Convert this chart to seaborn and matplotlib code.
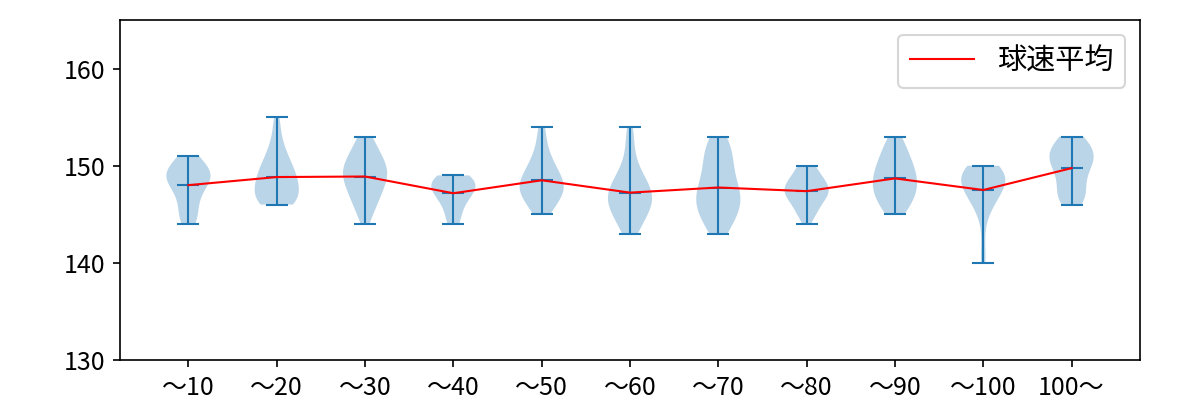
import numpy as np
import matplotlib
matplotlib.use("Agg")
import matplotlib.pyplot as plt
import seaborn as sns

plt.rcParams["font.family"] = ["Noto Sans CJK JP", "DejaVu Sans"]

# pitch-count buckets
labels = ["～10", "～20", "～30", "～40", "～50", "～60",
          "～70", "～80", "～90", "～100", "100～"]

# speed (km/h) -> number of pitches
g10 = {144: 2, 145: 2, 146: 2, 147: 2, 148: 4, 149: 6, 150: 4, 151: 2}
g20 = {146: 6, 147: 7, 148: 5, 149: 6, 150: 4, 151: 3, 152: 2, 153: 1,
       154: 1, 155: 1}
g30 = {144: 1, 145: 2, 146: 3, 147: 4, 148: 5, 149: 6, 150: 6, 151: 4,
       152: 3, 153: 2}
g40 = {144: 2, 145: 2, 146: 3, 147: 5, 148: 7, 149: 5}
g50 = {145: 2, 146: 3, 147: 5, 148: 6, 149: 4, 150: 3, 151: 2, 152: 1,
       153: 1, 154: 1}
g60 = {143: 2, 144: 3, 145: 4, 146: 6, 147: 6, 148: 5, 149: 3, 150: 2,
       151: 1, 152: 1, 153: 1, 154: 1}
g70 = {143: 2, 144: 3, 145: 4, 146: 5, 147: 5, 148: 4, 149: 3, 150: 3,
       151: 3, 152: 3, 153: 2}
g80 = {144: 1, 145: 3, 146: 4, 147: 7, 148: 7, 149: 4, 150: 3}
g90 = {145: 3, 146: 4, 147: 6, 148: 6, 149: 6, 150: 5, 151: 4, 152: 3,
       153: 2}
g100 = {140: 1, 141: 1, 143: 1, 145: 2, 146: 3, 147: 5, 148: 7, 149: 8,
        150: 6}
g100p = {146: 3, 147: 4, 148: 3, 149: 3, 150: 5, 151: 6, 152: 5, 153: 3}

groups = [g10, g20, g30, g40, g50, g60, g70, g80, g90, g100, g100p]


def expand(counts):
    return np.repeat(list(counts.keys()), list(counts.values())).astype(float)


samples = [expand(g) for g in groups]
positions = np.arange(1, len(samples) + 1)
means = [s.mean() for s in samples]

fig, ax = plt.subplots(figsize=(8, 8 / 3), dpi=150)
fig.subplots_adjust(left=0.1, right=0.95, bottom=0.1, top=0.95)

parts = ax.violinplot(samples, positions=positions, showmeans=True,
                      showextrema=True)
for key in ("cbars", "cmins", "cmaxes", "cmeans"):
    parts[key].set_linewidth(1.0)

sns.lineplot(x=positions, y=means, color="red", linewidth=1.0,
             label="球速平均", ax=ax)

ax.set_xticks(positions)
ax.set_xticklabels(labels, fontsize=12)
ax.tick_params(axis="y", labelsize=12)
ax.set_ylim(130, 165)
ax.set_yticks([130, 140, 150, 160])
ax.legend(loc="upper right", fontsize=14, handlelength=2.2)

fig.savefig("out.png", dpi=150)
